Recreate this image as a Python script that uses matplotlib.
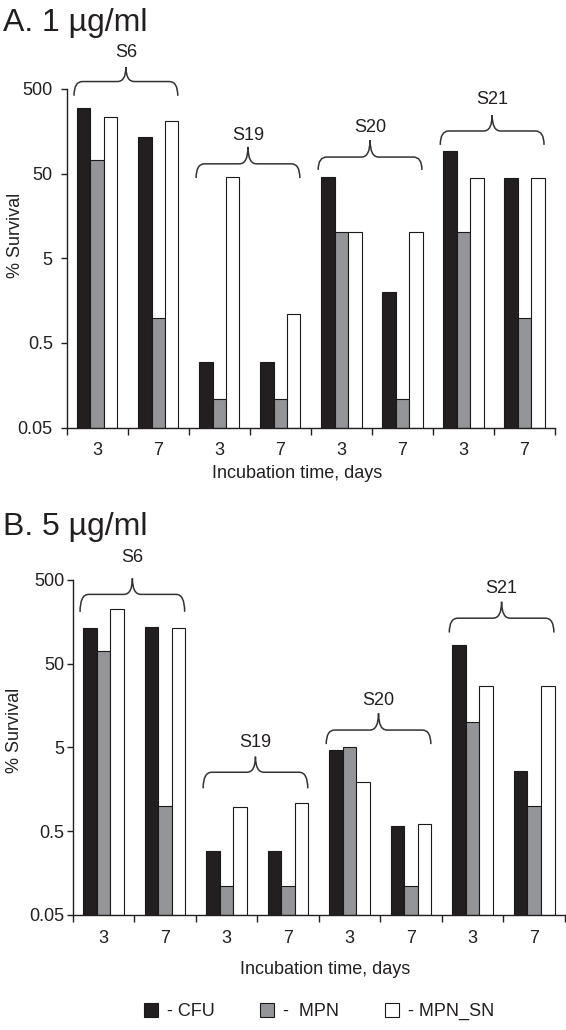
import matplotlib
matplotlib.use("Agg")
import matplotlib.pyplot as plt
import matplotlib.transforms as mtransforms
from matplotlib.path import Path
from matplotlib.patches import PathPatch, Patch
import numpy as np

plt.rcParams['font.family'] = ['Liberation Sans', 'DejaVu Sans']
TXT = '#231f20'
FS = 13

# ---------------- data ----------------
strains = ['S6', 'S19', 'S20', 'S21']
days = ['3', '7']
series = ['CFU', 'MPN', 'MPN_SN']
colors = ['#231f20', '#939598', '#ffffff']

# Panel A: 1 µg/ml  (order: S6-3, S6-7, S19-3, S19-7, S20-3, S20-7, S21-3, S21-7)
a_cfu = [300, 134, 0.30, 0.30, 46, 2.0, 93, 45]
a_mpn = [72, 1.0, 0.11, 0.11, 10.2, 0.11, 10.2, 1.0]
a_sn = [231, 209, 46, 1.1, 10.2, 10.2, 44, 44]

# Panel B: 5 µg/ml
b_cfu = [135, 137, 0.29, 0.29, 4.7, 0.57, 84, 2.6]
b_mpn = [70, 1.0, 0.11, 0.11, 5.0, 0.11, 10.1, 1.0]
b_sn = [225, 134, 0.98, 1.08, 1.94, 0.61, 27, 27]

yticks = [0.05, 0.5, 5, 50, 500]
ytick_labels = ['0.05', '0.5', '5', '50', '500']
YMIN, YMAX = 0.05, 500

fig = plt.figure(figsize=(5.66, 10.30), dpi=100)

def brace(ax, x0, x1, yh, ye, yt, label, ly, dx=0.14):
    trans = mtransforms.blended_transform_factory(ax.transData, ax.transAxes)
    xm = (x0 + x1) / 2
    verts = [(x0, ye), (x0, yh), (x0 + dx, yh),
             (xm - dx, yh), (xm, yh), (xm, yt),
             (xm, yh), (xm + dx, yh),
             (x1 - dx, yh), (x1, yh), (x1, ye)]
    codes = [Path.MOVETO, Path.CURVE3, Path.CURVE3,
             Path.LINETO, Path.CURVE3, Path.CURVE3,
             Path.CURVE3, Path.CURVE3,
             Path.LINETO, Path.CURVE3, Path.CURVE3]
    p = PathPatch(Path(verts, codes), transform=trans, fill=False,
                  edgecolor='#333333', lw=1.1, clip_on=False)
    ax.add_patch(p)
    ax.text(xm, ly, label, transform=trans, ha='center', va='center',
            fontsize=FS, color=TXT, clip_on=False)

def panel(rect, vals, brace_pos, ypad, xpad, xlab_xy, ylab_xy):
    ax = fig.add_axes(rect)
    n = len(vals[0])
    x = np.arange(n)
    w = 0.22
    for i, (v, c) in enumerate(zip(vals, colors)):
        v = np.asarray(v, dtype=float)
        ax.bar(x + (i - 1) * w, v - YMIN, bottom=YMIN, width=w, color=c,
               edgecolor='#1a1a1a', linewidth=0.8, label=series[i])
    ax.set_yscale('log')
    ax.set_ylim(YMIN, YMAX)
    ax.set_xlim(-0.5, n - 0.5)
    ax.set_yticks(yticks)
    ax.set_yticklabels(ytick_labels)
    ax.yaxis.set_minor_locator(matplotlib.ticker.NullLocator())
    ax.tick_params(axis='y', which='major', direction='out', length=4,
                   width=1.0, pad=ypad, labelsize=FS, colors=TXT)
    # major x ticks at group boundaries, labels at group centres
    ax.set_xticks(np.arange(-0.5, n, 1.0))
    ax.set_xticklabels([])
    ax.set_xticks(x, minor=True)
    ax.set_xticklabels(days * len(strains), minor=True)
    ax.tick_params(axis='x', which='major', direction='out', length=5,
                   width=1.0, colors=TXT)
    ax.tick_params(axis='x', which='minor', length=0, pad=xpad,
                   labelsize=FS, labelcolor=TXT)
    for s in ['top', 'right']:
        ax.spines[s].set_visible(False)
    for s in ['left', 'bottom']:
        ax.spines[s].set_linewidth(1.0)
        ax.spines[s].set_color(TXT)
    ax.set_xlabel('Incubation time, days', fontsize=FS, color=TXT)
    ax.xaxis.label.set_va('center')
    ax.xaxis.set_label_coords(*xlab_xy)
    ax.set_ylabel('% Survival', fontsize=FS, color=TXT)
    ax.yaxis.label.set_va('center')
    ax.yaxis.set_label_coords(*ylab_xy)
    for k, s in enumerate(strains):
        yh, ye, yt, ly = brace_pos[k]
        brace(ax, 2 * k - 0.38, 2 * k + 1 + 0.32, yh, ye, yt, s, ly)
    return ax

braceA = [(1.022, 0.980, 1.065, 1.109),
          (0.779, 0.737, 0.829, 0.864),
          (0.799, 0.761, 0.849, 0.887),
          (0.876, 0.835, 0.923, 0.970)]
braceB = [(0.957, 0.905, 1.005, 1.066),
          (0.426, 0.378, 0.4725, 0.514),
          (0.552, 0.510, 0.602, 0.640),
          (0.886, 0.843, 0.935, 0.975)]

axA = panel([0.1178, 0.5848, 0.8628, 0.3288], [a_cfu, a_mpn, a_sn], braceA,
            6, 10.5, (0.4716, -0.134), (-0.104, 0.5675))
axB = panel([0.1284, 0.1117, 0.8698, 0.3252], [b_cfu, b_mpn, b_sn], braceB,
            2, 11, (0.5125, -0.164), (-0.118, 0.550))

fig.text(0.005, 1 - 30.7 / 1030, 'A. 1 µg/ml', fontsize=23, color=TXT,
         ha='left', va='baseline')
fig.text(0.005, 1 - 535 / 1030, 'B. 5 µg/ml', fontsize=23, color=TXT,
         ha='left', va='baseline')

handles = [Patch(facecolor=c, edgecolor='#1a1a1a', linewidth=0.8) for c in colors]
leg_labels = ['- CFU', '-  MPN', '- MPN_SN']
fig.legend(handles, leg_labels, loc='center', bbox_to_anchor=(0.5636, 0.018),
           ncol=3, frameon=False, fontsize=FS, handlelength=0.8,
           handleheight=0.8, handletextpad=0.5, columnspacing=2.5,
           labelcolor=TXT)

fig.savefig('out.png', dpi=100)
